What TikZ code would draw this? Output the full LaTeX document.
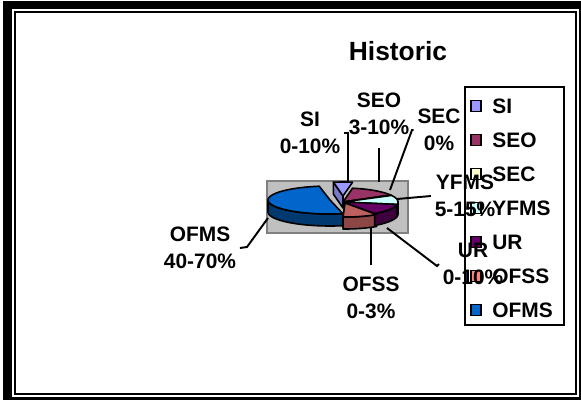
\documentclass[tikz,border=0pt]{standalone}
\usepackage{fontspec}
\setmainfont{Liberation Sans}

\definecolor{siblue}{HTML}{9999FF}
\definecolor{seoplum}{HTML}{993366}
\definecolor{secyellow}{HTML}{FFFFCC}
\definecolor{yfmscyan}{HTML}{CCFFFF}
\definecolor{urpurple}{HTML}{660066}
\definecolor{ofsssalmon}{HTML}{FF8080}
\definecolor{ofmsblue}{HTML}{0066CC}
\definecolor{plotgray}{HTML}{C0C0C0}

\tikzset{
  lbl/.style={font=\fontsize{11.9}{15.4}\selectfont\bfseries, align=center, inner sep=2pt},
  legtext/.style={font=\fontsize{11.9}{14}\selectfont\bfseries, anchor=west, inner sep=2pt},
  key/.style={draw, line width=0.8pt, minimum width=5.6pt, minimum height=6pt, inner sep=0pt},
  leader/.style={line width=1.1pt},
  slice/.style={draw, line width=0.9pt, line join=round},
}

% pie tilt and thickness
\newcommand{\pieRy}{14}
\newcommand{\pieDepth}{12}
% top of a slice: centre x, centre y, x radius, from, to, colour
\newcommand{\slicetop}[6]{%
  \filldraw[slice, fill=#6] (#1,#2) -- plot[domain=#4:#5, samples=30] ({#1+#3*cos(\x)},{#2-\pieRy*sin(\x)}) -- cycle;}
% front wall of a slice between two angles
\newcommand{\slicewall}[6]{%
  \filldraw[slice, fill=#6] plot[domain=#4:#5, samples=30] ({#1+#3*cos(\x)},{#2-\pieRy*sin(\x)})
    -- plot[domain=#5:#4, samples=30] ({#1+#3*cos(\x)},{#2-\pieRy*sin(\x)+\pieDepth}) -- cycle;}

\begin{document}
\begin{tikzpicture}[x=0.02cm, y=-0.02cm]
	\useasboundingbox (0,0) rectangle (581,400);

	% double frame
	\fill (3,1) rectangle (581,400);
	\fill[white] (12,9) rectangle (578.7,396.7);
	\draw[line width=1.15pt] (14.7,11.9) rectangle (576,393.7);

	\node[font=\fontsize{15}{18}\selectfont\bfseries] (title) at (398,51) {Historic};

	% plot area
	\filldraw[fill=plotgray, draw=gray, line width=0.8pt] (267,181) rectangle (408,233);

	% OFMS slice pulled out to the left
	\slicewall{330}{200}{62}{180}{282}{ofmsblue!55!black}
	\slicetop{330}{200}{62}{100}{282}{ofmsblue}

	% cut faces left open by the OFMS slice
	\filldraw[slice, fill=siblue!80!black] (343,196) -- ({343+55*cos(100)},{196-14*sin(100)}) -- ++(0,12) -- (343,208) -- cycle;
	\filldraw[slice, fill=black!85] (345,203) -- ({345+55*cos(268)},{203-14*sin(268)}) -- ++(0,12) -- (345,215) -- cycle;

	% front walls
	\slicewall{345}{203}{55}{268}{305}{ofsssalmon!55!black}
	\slicewall{343}{202}{55}{305}{350}{urpurple!60!black}
	\slicewall{343}{202}{55}{350}{360}{yfmscyan!60!black}

	% slice tops
	\slicetop{343}{202}{55}{30}{80}{seoplum}
	\slicetop{343}{202}{55}{28}{30}{secyellow}
	\slicetop{343}{202}{55}{-10}{28}{yfmscyan}
	\slicetop{343}{202}{55}{305}{350}{urpurple}
	\slicetop{345}{203}{55}{268}{305}{ofsssalmon!75!black}
	\slicetop{343}{196}{55}{80}{100}{siblue}

	% legend
	\draw[line width=1.1pt, fill=white] (465,87) rectangle (564,325);
	\node[key, fill=siblue] (keySI) at (476,106) {};
	\node[legtext] (txtSI) at (488.5,106) {SI};
	\node[key, fill=seoplum] (keySEO) at (476,140) {};
	\node[legtext] (txtSEO) at (488.5,140) {SEO};
	\node[key, fill=secyellow] (keySEC) at (476,174) {};
	\node[legtext] (txtSEC) at (488.5,174) {SEC};
	\node[key, fill=yfmscyan] (keyYFMS) at (476,208) {};
	\node[legtext] (txtYFMS) at (488.5,208) {YFMS};
	\node[key, fill=urpurple] (keyUR) at (476,242) {};
	\node[legtext] (txtUR) at (488.5,242) {UR};
	\node[key, fill=ofsssalmon] (keyOFSS) at (476,276) {};
	\node[legtext] (txtOFSS) at (488.5,276) {OFSS};
	\node[key, fill=ofmsblue] (keyOFMS) at (476,310) {};
	\node[legtext] (txtOFMS) at (488.5,310) {OFMS};

	% data labels
	\node[lbl] (lblSI) at (310,133) {SI\\0-10\%};
	\node[lbl] (lblSEO) at (379,114) {SEO\\3-10\%};
	\node[lbl] (lblSEC) at (439,130) {SEC\\0\%};
	\node[lbl] (lblYFMS) at (465,196) {YFMS\\5-15\%};
	\node[lbl] (lblUR) at (473,264) {UR\\0-10\%};
	\node[lbl] (lblOFSS) at (371,298) {OFSS\\0-3\%};
	\node[lbl] (lblOFMS) at (200,248) {OFMS\\40-70\%};

	% leader lines
	\coordinate (siBend) at (348,133);
	\coordinate (siEnd) at (348,182);
	\coordinate (seoEnd) at (379,182);
	\coordinate (secBend) at (412,130);
	\coordinate (secEnd) at (390,190);
	\coordinate (yfmsEnd) at (397,199);
	\coordinate (urBend) at (437,266);
	\coordinate (urEnd) at (387,228);
	\coordinate (ofssEnd) at (371,227);
	\coordinate (ofmsBend) at (247,247);
	\coordinate (ofmsEnd) at (268,218);

	\draw[leader] (lblSI.east) -- (siBend) -- (siEnd);
	\draw[leader, shorten <=5.4pt] (lblSEO.south) -- (seoEnd);
	\draw[leader] (lblSEC.west) -- (secBend) -- (secEnd);
	\draw[leader] (lblYFMS.west) -- (yfmsEnd);
	\draw[leader] (lblUR.west) -- (urBend) -- (urEnd);
	\draw[leader, shorten <=4.5pt] (lblOFSS.north) -- (ofssEnd);
	\draw[leader] (lblOFMS.east) -- (ofmsBend) -- (ofmsEnd);

\end{tikzpicture}
\end{document}
